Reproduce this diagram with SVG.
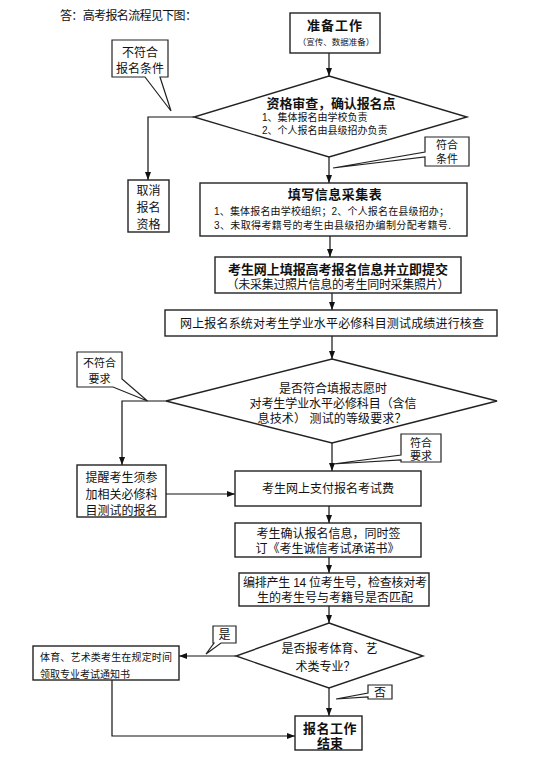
<svg xmlns="http://www.w3.org/2000/svg" width="538" height="760" viewBox="0 0 538 760">
<defs>
<marker id="ah" markerWidth="8" markerHeight="6" refX="8" refY="3" orient="auto" markerUnits="userSpaceOnUse">
<path d="M0,0 L8,3 L0,6 z" fill="#111"/>
</marker>
<style>
.box{fill:#fff;stroke:#222;stroke-width:1.4}
.co{fill:#fff;stroke:#222;stroke-width:1.2}
.ln{fill:none;stroke:#111;stroke-width:1.2}
text{font-family:"Liberation Sans","Noto Sans CJK SC",sans-serif;fill:#111;text-anchor:middle}
.b{font-weight:bold;font-size:13px}
.t{font-size:12px}
.c{font-size:11px}
.s{font-size:10px}
.xs{font-size:8.5px}
.l{text-anchor:start}
</style>
</defs>
<rect x="0" y="0" width="538" height="760" fill="#fff"/>
<text class="t l" x="60" y="20" textLength="137">答：高考报名流程见下图：</text>

<g id="connectors">
<path class="ln" d="M329,53 V76" marker-end="url(#ah)"/>
<path class="ln" d="M194,117 H148 V180" marker-end="url(#ah)"/>
<path class="ln" d="M329,157 V183" marker-end="url(#ah)"/>
<path class="ln" d="M330,236 V257" marker-end="url(#ah)"/>
<path class="ln" d="M332,293 V310" marker-end="url(#ah)"/>
<path class="ln" d="M332,336 V359" marker-end="url(#ah)"/>
<path class="ln" d="M166,401 H122 V465" marker-end="url(#ah)"/>
<path class="ln" d="M332,443 V471" marker-end="url(#ah)"/>
<path class="ln" d="M166,494 H235" marker-end="url(#ah)"/>
<path class="ln" d="M329,506 V523" marker-end="url(#ah)"/>
<path class="ln" d="M329,557 V573" marker-end="url(#ah)"/>
<path class="ln" d="M329,606 V623" marker-end="url(#ah)"/>
<path class="ln" d="M236,656 H179" marker-end="url(#ah)"/>
<path class="ln" d="M329,688 V716" marker-end="url(#ah)"/>
<path class="ln" d="M112,680 V736 H295" marker-end="url(#ah)"/>
</g>

<g id="start">
<rect class="box" x="290" y="13" width="90" height="40"/>
<text class="b" x="335" y="30" letter-spacing="1">准备工作</text>
<text class="xs" x="336" y="44.5">（宣传、数据准备）</text>
</g>

<g id="check-qualification">
<polygon class="box" points="329,76 467,117 329,157 194,117"/>
<text class="b" x="331" y="108" textLength="129">资格审查，确认报名点</text>
<text class="s l" x="262" y="121">1、集体报名由学校负责</text>
<text class="s l" x="262" y="134">2、个人报名由县级招办负责</text>
</g>

<g id="callout-not-qualified">
<path class="co" d="M112,40 H168 V77 H160 L171,111 L145,77 H112 Z"/>
<text class="t" x="140" y="56.5">不符合</text>
<text class="t" x="140" y="73">报名条件</text>
</g>

<g id="callout-qualified">
<path class="co" d="M425,137 H469 V166 H425 V157 L333,168 L425,152 Z"/>
<text class="c" x="447" y="149">符合</text>
<text class="c" x="447" y="162.5">条件</text>
</g>

<g id="cancel">
<rect class="box" x="128" y="180" width="41" height="52"/>
<text class="t" x="148.5" y="195">取消</text>
<text class="t" x="148.5" y="212">报名</text>
<text class="t" x="148.5" y="229">资格</text>
</g>

<g id="fill-form">
<rect class="box" x="200" y="183" width="267" height="53"/>
<text class="b" x="335" y="199" letter-spacing="0.5">填写信息采集表</text>
<text class="s l" x="214" y="215" textLength="235">1、集体报名由学校组织；2、个人报名在县级招办；</text>
<text class="s l" x="214" y="229" textLength="237">3、未取得考籍号的考生由县级招办编制分配考籍号.</text>
</g>

<g id="online-submit">
<rect class="box" x="215" y="257" width="246" height="36"/>
<text class="b" x="338" y="273.5" textLength="220">考生网上填报高考报名信息并立即提交</text>
<text class="t" x="338" y="289" textLength="223">（未采集过照片信息的考生同时采集照片）</text>
</g>

<g id="system-check">
<rect class="box" x="165" y="310" width="332" height="26"/>
<text class="t" x="332" y="327.5" textLength="304">网上报名系统对考生学业水平必修科目测试成绩进行核查</text>
</g>

<g id="check-requirement">
<polygon class="box" points="332,359 497,401 332,443 166,401"/>
<text class="t" x="333" y="392.5">是否符合填报志愿时</text>
<text class="t" x="333" y="407.5" textLength="167">对考生学业水平必修科目（含信</text>
<text class="t" x="332" y="422.5" textLength="149">息技术） 测试的等级要求？</text>
</g>

<g id="callout-not-met">
<path class="co" d="M77,352 H122 V379 L147.5,401 L113,387 H77 Z"/>
<text class="c" x="99.5" y="367">不符合</text>
<text class="c" x="99.5" y="383">要求</text>
</g>

<g id="callout-met">
<path class="co" d="M401,434 H441 V462 H401 V460 L333,464 L401,455 Z"/>
<text class="c" x="421" y="446.5">符合</text>
<text class="c" x="421" y="459.5">要求</text>
</g>

<g id="remind">
<rect class="box" x="77" y="465" width="89" height="52"/>
<text class="t" x="121.5" y="481.5">提醒考生须参</text>
<text class="t" x="121.5" y="498.5">加相关必修科</text>
<text class="t" x="121.5" y="514.5">目测试的报名</text>
</g>

<g id="pay">
<rect class="box" x="235" y="471" width="186" height="35"/>
<text class="t" x="328" y="493">考生网上支付报名考试费</text>
</g>

<g id="confirm">
<rect class="box" x="235" y="523" width="186" height="34"/>
<text class="t" x="328.5" y="537.5">考生确认报名信息，同时签</text>
<text class="t" x="327.5" y="552.5">订《考生诚信考试承诺书》</text>
</g>

<g id="number">
<rect class="box" x="239" y="573" width="190" height="33"/>
<text class="t" x="335" y="586.5" textLength="184">编排产生 14 位考生号，检查核对考</text>
<text class="t" x="335" y="601.5">生的考生号与考籍号是否匹配</text>
</g>

<g id="check-sports">
<polygon class="box" points="329,623 423,656 329,688 236,656"/>
<text class="t" x="329.5" y="652.5">是否报考体育、艺</text>
<text class="t" x="325.5" y="671">术类专业？</text>
</g>

<g id="callout-yes">
<path class="co" d="M213,626 H236 V643 H221 L206,654 L214,643 H213 Z"/>
<text class="t" x="224.5" y="639">是</text>
</g>

<g id="callout-no">
<path class="co" d="M368,685 H392 V699 H368 V697 L336,699 L368,693 Z"/>
<text class="t" x="380" y="696.5">否</text>
</g>

<g id="sports-notice">
<rect class="box" x="33" y="646" width="146" height="34"/>
<text class="s l" x="40" y="661" textLength="132">体育、艺术类考生在规定时间</text>
<text class="s l" x="40" y="677.5">领取专业考试通知书</text>
</g>

<g id="end">
<rect class="box" x="295" y="716" width="67" height="34"/>
<text class="b" x="330" y="732.5" letter-spacing="0.5">报名工作</text>
<text class="b" x="330" y="747.5">结束</text>
</g>
</svg>
